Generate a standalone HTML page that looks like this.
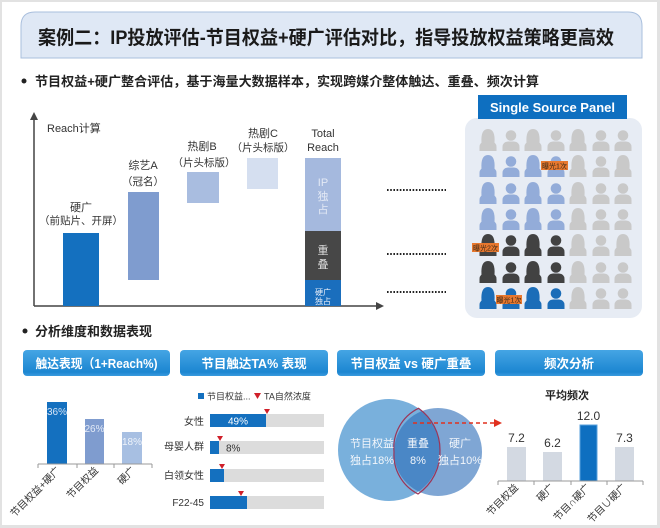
<!DOCTYPE html>
<html><head><meta charset="utf-8">
<style>
html,body{margin:0;padding:0;background:#fff;}
svg{display:block;}
text{font-family:"Liberation Sans","Noto Sans CJK SC",sans-serif;}
</style></head>
<body>
<svg width="660" height="528" viewBox="0 0 660 528" xmlns="http://www.w3.org/2000/svg">
<defs>
  <linearGradient id="hg" x1="0" y1="0" x2="0" y2="1">
    <stop offset="0" stop-color="#45a5e4"/>
    <stop offset="0.85" stop-color="#1c86d1"/>
    <stop offset="1" stop-color="#3a9ade"/>
  </linearGradient>
  <g id="m">
    <circle cx="0" cy="-4.5" r="5.3"/>
    <path d="M-8.5,11 L-8.5,7 Q-8.5,2 -3,1.5 L3,1.5 Q8.5,2 8.5,7 L8.5,11 Z"/>
  </g>
  <g id="f">
    <path d="M-6.5,3 Q-7.5,-11 0,-11 Q7.5,-11 6.5,3 Z"/>
    <path d="M-8.5,11 L-8.5,7 Q-8.5,2 -3,1.5 L3,1.5 Q8.5,2 8.5,7 L8.5,11 Z"/>
  </g>
  <clipPath id="lc"><circle cx="389" cy="450" r="51"/></clipPath>
  <marker id="ah" markerWidth="8" markerHeight="8" refX="6" refY="4" orient="auto" markerUnits="userSpaceOnUse">
    <path d="M0,0 L8,4 L0,8 Z" fill="#e0301e"/>
  </marker>
</defs>

<!-- frame -->
<rect x="0" y="0" width="660" height="528" fill="#e2e2e2"/>
<rect x="2" y="2" width="655" height="523" fill="#ffffff"/>

<!-- title -->
<path d="M21,58 L21,26 Q21,12 35,12 L628,12 Q642,12 642,26 L642,58 Z" fill="#dfe8f5" stroke="#a9bfdd" stroke-width="1"/>
<text x="38" y="44" font-size="19" font-weight="bold" fill="#1a1a1a" textLength="576" lengthAdjust="spacingAndGlyphs">案例二：IP投放评估-节目权益+硬广评估对比，指导投放权益策略更高效</text>

<!-- bullet 1 -->
<circle cx="24" cy="81" r="2.5" fill="#222"/>
<text x="35" y="86" font-size="13" font-weight="bold" fill="#222" textLength="504" lengthAdjust="spacingAndGlyphs">节目权益+硬广整合评估，基于海量大数据样本，实现跨媒介整体触达、重叠、频次计算</text>

<!-- top-left chart axes -->
<line x1="34" y1="306" x2="34" y2="118" stroke="#444" stroke-width="1.5"/>
<path d="M30,120 L34,112 L38,120 Z" fill="#444"/>
<line x1="34" y1="306" x2="378" y2="306" stroke="#444" stroke-width="1.5"/>
<path d="M376,302 L384,306 L376,310 Z" fill="#444"/>
<text x="47" y="132" font-size="11" fill="#333">Reach计算</text>

<!-- bars -->
<rect x="63" y="233" width="36" height="73" fill="#1470bf"/>
<text x="81" y="211" font-size="11" fill="#333" text-anchor="middle">硬广</text>
<text x="81" y="224" font-size="10.5" fill="#333" text-anchor="middle">（前贴片、开屏）</text>

<rect x="128" y="192" width="31" height="88" fill="#7f9ccf"/>
<text x="143" y="169" font-size="11" fill="#333" text-anchor="middle">综艺A</text>
<text x="143" y="185" font-size="10.5" fill="#333" text-anchor="middle">（冠名）</text>

<rect x="187" y="172" width="32" height="31" fill="#a9bde0"/>
<text x="202" y="150" font-size="11" fill="#333" text-anchor="middle">热剧B</text>
<text x="204" y="166" font-size="10.5" fill="#333" text-anchor="middle">（片头标版）</text>

<rect x="247" y="158" width="31" height="31" fill="#d5dff0"/>
<text x="263" y="137" font-size="11" fill="#333" text-anchor="middle">热剧C</text>
<text x="263" y="151" font-size="10.5" fill="#333" text-anchor="middle">（片头标版）</text>

<text x="323" y="137" font-size="11" fill="#333" text-anchor="middle">Total</text>
<text x="323" y="151" font-size="11" fill="#333" text-anchor="middle">Reach</text>
<rect x="305" y="158" width="36" height="73" fill="#a5b9de"/>
<rect x="305" y="231" width="36" height="49" fill="#474747"/>
<rect x="305" y="280" width="36" height="26" fill="#1a6ebd"/>
<text x="323" y="186" font-size="11" fill="#e3e9f5" text-anchor="middle">IP</text>
<text x="323" y="200" font-size="11" fill="#e3e9f5" text-anchor="middle">独</text>
<text x="323" y="213" font-size="11" fill="#e3e9f5" text-anchor="middle">占</text>
<text x="323" y="254" font-size="11" fill="#dddddd" text-anchor="middle">重</text>
<text x="323" y="268" font-size="11" fill="#dddddd" text-anchor="middle">叠</text>
<text x="323" y="295" font-size="8" fill="#e8eef8" text-anchor="middle">硬广</text>
<text x="323" y="304" font-size="8" fill="#e8eef8" text-anchor="middle">独占</text>

<!-- dotted lines -->
<g stroke="#222" stroke-width="2" stroke-dasharray="1.6,1.6">
<line x1="387" y1="190" x2="446" y2="190"/>
<line x1="387" y1="254" x2="446" y2="254"/>
<line x1="387" y1="292" x2="446" y2="292"/>
</g>

<!-- single source panel -->
<rect x="465" y="118" width="177" height="200" rx="12" fill="#e7ecf4"/>
<rect x="478" y="95" width="149" height="24" fill="#0e6fc0"/>
<text x="552.5" y="112" font-size="13" font-weight="bold" fill="#fff" text-anchor="middle">Single Source Panel</text>

<!-- people -->
<g>
<!-- row1 -->
<use href="#f" x="488" y="140" fill="#c9c9c9"/><use href="#m" x="511" y="140" fill="#c9c9c9"/><use href="#f" x="533" y="140" fill="#c9c9c9"/><use href="#m" x="556" y="140" fill="#c9c9c9"/><use href="#f" x="578" y="140" fill="#c9c9c9"/><use href="#m" x="601" y="140" fill="#c9c9c9"/><use href="#m" x="623" y="140" fill="#c9c9c9"/>
<!-- row2 -->
<use href="#f" x="488" y="166" fill="#93acd9"/><use href="#m" x="511" y="166" fill="#93acd9"/><use href="#f" x="533" y="166" fill="#93acd9"/><use href="#m" x="556" y="166" fill="#93acd9"/><use href="#f" x="578" y="166" fill="#c9c9c9"/><use href="#m" x="601" y="166" fill="#c9c9c9"/><use href="#f" x="623" y="166" fill="#c9c9c9"/>
<!-- row3 -->
<use href="#f" x="488" y="193" fill="#93acd9"/><use href="#m" x="511" y="193" fill="#93acd9"/><use href="#f" x="533" y="193" fill="#93acd9"/><use href="#m" x="556" y="193" fill="#93acd9"/><use href="#f" x="578" y="193" fill="#c9c9c9"/><use href="#m" x="601" y="193" fill="#c9c9c9"/><use href="#m" x="623" y="193" fill="#c9c9c9"/>
<!-- row4 -->
<use href="#f" x="488" y="219" fill="#93acd9"/><use href="#m" x="511" y="219" fill="#93acd9"/><use href="#f" x="533" y="219" fill="#93acd9"/><use href="#m" x="556" y="219" fill="#93acd9"/><use href="#f" x="578" y="219" fill="#c9c9c9"/><use href="#m" x="601" y="219" fill="#c9c9c9"/><use href="#m" x="623" y="219" fill="#c9c9c9"/>
<!-- row5 -->
<use href="#f" x="488" y="245" fill="#424242"/><use href="#m" x="511" y="245" fill="#424242"/><use href="#f" x="533" y="245" fill="#424242"/><use href="#m" x="556" y="245" fill="#424242"/><use href="#f" x="578" y="245" fill="#c9c9c9"/><use href="#m" x="601" y="245" fill="#c9c9c9"/><use href="#f" x="623" y="245" fill="#c9c9c9"/>
<!-- row6 -->
<use href="#f" x="488" y="272" fill="#424242"/><use href="#m" x="511" y="272" fill="#424242"/><use href="#f" x="533" y="272" fill="#424242"/><use href="#m" x="556" y="272" fill="#424242"/><use href="#f" x="578" y="272" fill="#c9c9c9"/><use href="#m" x="601" y="272" fill="#c9c9c9"/><use href="#m" x="623" y="272" fill="#c9c9c9"/>
<!-- row7 -->
<use href="#f" x="488" y="298" fill="#1b6db8"/><use href="#m" x="511" y="298" fill="#1b6db8"/><use href="#f" x="533" y="298" fill="#1b6db8"/><use href="#m" x="556" y="298" fill="#1b6db8"/><use href="#f" x="578" y="298" fill="#c9c9c9"/><use href="#m" x="601" y="298" fill="#c9c9c9"/><use href="#m" x="623" y="298" fill="#c9c9c9"/>
</g>
<rect x="541" y="161" width="27" height="9" fill="#e8782e"/>
<text x="554.5" y="168.5" font-size="7" fill="#3a2a1a" text-anchor="middle">曝光1次</text>
<rect x="472" y="243" width="27" height="9" fill="#e8782e"/>
<text x="485.5" y="250.5" font-size="7" fill="#3a2a1a" text-anchor="middle">曝光2次</text>
<rect x="496" y="295" width="26" height="9" fill="#e8782e"/>
<text x="509" y="302.5" font-size="7" fill="#3a2a1a" text-anchor="middle">曝光1次</text>

<!-- bullet 2 -->
<circle cx="25" cy="331" r="2.5" fill="#222"/>
<text x="35" y="336" font-size="13" font-weight="bold" fill="#222" textLength="117" lengthAdjust="spacingAndGlyphs">分析维度和数据表现</text>

<!-- header buttons -->
<rect x="23" y="350" width="147" height="26" rx="4" fill="url(#hg)"/>
<text x="96.5" y="368" font-size="12.5" font-weight="bold" fill="#fff" text-anchor="middle" textLength="122" lengthAdjust="spacingAndGlyphs">触达表现（1+Reach%)</text>
<rect x="180" y="350" width="148" height="26" rx="4" fill="url(#hg)"/>
<text x="254" y="368" font-size="12.5" font-weight="bold" fill="#fff" text-anchor="middle">节目触达TA% 表现</text>
<rect x="337" y="350" width="148" height="26" rx="4" fill="url(#hg)"/>
<text x="411" y="368" font-size="12.5" font-weight="bold" fill="#fff" text-anchor="middle">节目权益 vs 硬广重叠</text>
<rect x="495" y="350" width="148" height="26" rx="4" fill="url(#hg)"/>
<text x="569" y="368" font-size="12.5" font-weight="bold" fill="#fff" text-anchor="middle">频次分析</text>

<!-- panel 1 -->
<rect x="47" y="402" width="20" height="62" fill="#1470bf"/>
<rect x="85" y="419" width="19" height="45" fill="#7f9ccf"/>
<rect x="122" y="432" width="20" height="32" fill="#a7bfe2"/>
<text x="57" y="415" font-size="10" fill="#d5e3f5" text-anchor="middle">36%</text>
<text x="94.5" y="432" font-size="10" fill="#e3eaf6" text-anchor="middle">26%</text>
<text x="132" y="445" font-size="10" fill="#eef3fa" text-anchor="middle">18%</text>
<g stroke="#999" stroke-width="1">
<line x1="38" y1="464" x2="152" y2="464"/>
<line x1="38" y1="464" x2="38" y2="468"/><line x1="77" y1="464" x2="77" y2="468"/><line x1="114" y1="464" x2="114" y2="468"/><line x1="152" y1="464" x2="152" y2="468"/>
</g>
<text transform="translate(61,471) rotate(-45)" font-size="10" fill="#333" text-anchor="end">节目权益+硬广</text>
<text transform="translate(99,471) rotate(-45)" font-size="10" fill="#333" text-anchor="end">节目权益</text>
<text transform="translate(136,471) rotate(-45)" font-size="10" fill="#333" text-anchor="end">硬广</text>

<!-- panel 2 -->
<rect x="198" y="393" width="6" height="6" fill="#1470bf"/>
<text x="207" y="399.5" font-size="9" fill="#333">节目权益...</text>
<path d="M254,393 L261,393 L257.5,399 Z" fill="#d0202a"/>
<text x="264" y="399.5" font-size="9" fill="#333">TA自然浓度</text>

<text x="204" y="425" font-size="10" fill="#333" text-anchor="end">女性</text>
<text x="204" y="450" font-size="10" fill="#333" text-anchor="end">母婴人群</text>
<text x="204" y="479" font-size="10" fill="#333" text-anchor="end">白领女性</text>
<text x="204" y="506" font-size="10" fill="#333" text-anchor="end">F22-45</text>

<rect x="210" y="414" width="114" height="13" fill="#dcdcdc"/>
<rect x="210" y="441" width="114" height="13" fill="#dcdcdc"/>
<rect x="210" y="469" width="114" height="13" fill="#dcdcdc"/>
<rect x="210" y="496" width="114" height="13" fill="#dcdcdc"/>
<rect x="210" y="414" width="56" height="13" fill="#1470bf"/>
<rect x="210" y="441" width="9" height="13" fill="#1470bf"/>
<rect x="210" y="469" width="14" height="13" fill="#1470bf"/>
<rect x="210" y="496" width="37" height="13" fill="#1470bf"/>
<text x="238" y="424.5" font-size="10" fill="#fff" text-anchor="middle">49%</text>
<text x="226" y="451.5" font-size="10" fill="#333">8%</text>
<path d="M264,409 L270,409 L267,414 Z" fill="#d0202a"/>
<path d="M217,436 L223,436 L220,441 Z" fill="#d0202a"/>
<path d="M219,464 L225,464 L222,469 Z" fill="#d0202a"/>
<path d="M238,491 L244,491 L241,496 Z" fill="#d0202a"/>

<!-- panel 3 venn -->
<circle cx="438" cy="452" r="44" fill="#7fa6d4"/>
<circle cx="389" cy="450" r="51" fill="#79b0dc"/>
<g clip-path="url(#lc)">
  <circle cx="438" cy="452" r="44" fill="#4a87c6"/>
</g>
<path d="M440,450 A51,51 0 0 0 418.5,408.3 A44,44 0 0 0 394,452 A44,44 0 0 0 418,494 A51,51 0 0 0 440,450 Z" fill="none" stroke="#9c3558" stroke-width="1.2"/>
<text x="372" y="447" font-size="11" fill="#f2f6fb" text-anchor="middle">节目权益</text>
<text x="372" y="464" font-size="11" fill="#f2f6fb" text-anchor="middle">独占18%</text>
<text x="418" y="447" font-size="11" fill="#f2f6fb" text-anchor="middle">重叠</text>
<text x="418" y="464" font-size="11" fill="#f2f6fb" text-anchor="middle">8%</text>
<text x="460" y="447" font-size="11" fill="#f2f6fb" text-anchor="middle">硬广</text>
<text x="460" y="464" font-size="11" fill="#f2f6fb" text-anchor="middle">独占10%</text>
<line x1="413" y1="423" x2="500" y2="423" stroke="#e0301e" stroke-width="1.5" stroke-dasharray="4,3" marker-end="url(#ah)"/>

<!-- panel 4 -->
<text x="567" y="399" font-size="11" font-weight="bold" fill="#222" text-anchor="middle">平均频次</text>
<rect x="507" y="447" width="19" height="34" fill="#d3d9e2"/>
<rect x="543" y="452" width="19" height="29" fill="#d3d9e2"/>
<rect x="580" y="425" width="17" height="56" fill="#0e6fc0" stroke="#5aa0dc" stroke-width="1"/>
<rect x="615" y="447" width="19" height="34" fill="#d3d9e2"/>
<text x="516.5" y="442" font-size="12" fill="#333" text-anchor="middle">7.2</text>
<text x="552.5" y="447" font-size="12" fill="#333" text-anchor="middle">6.2</text>
<text x="588.5" y="420" font-size="12" fill="#333" text-anchor="middle">12.0</text>
<text x="624.5" y="442" font-size="12" fill="#333" text-anchor="middle">7.3</text>
<g stroke="#999" stroke-width="1">
<line x1="498" y1="481" x2="643" y2="481"/>
<line x1="498" y1="481" x2="498" y2="485"/><line x1="534" y1="481" x2="534" y2="485"/><line x1="571" y1="481" x2="571" y2="485"/><line x1="607" y1="481" x2="607" y2="485"/><line x1="643" y1="481" x2="643" y2="485"/>
</g>
<text transform="translate(519,488) rotate(-45)" font-size="10" fill="#333" text-anchor="end">节目权益</text>
<text transform="translate(555,488) rotate(-45)" font-size="10" fill="#333" text-anchor="end">硬广</text>
<text transform="translate(591,488) rotate(-45)" font-size="10" fill="#333" text-anchor="end">节目∩硬广</text>
<text transform="translate(627,488) rotate(-45)" font-size="10" fill="#333" text-anchor="end">节目∪硬广</text>
</svg>
</body></html>
